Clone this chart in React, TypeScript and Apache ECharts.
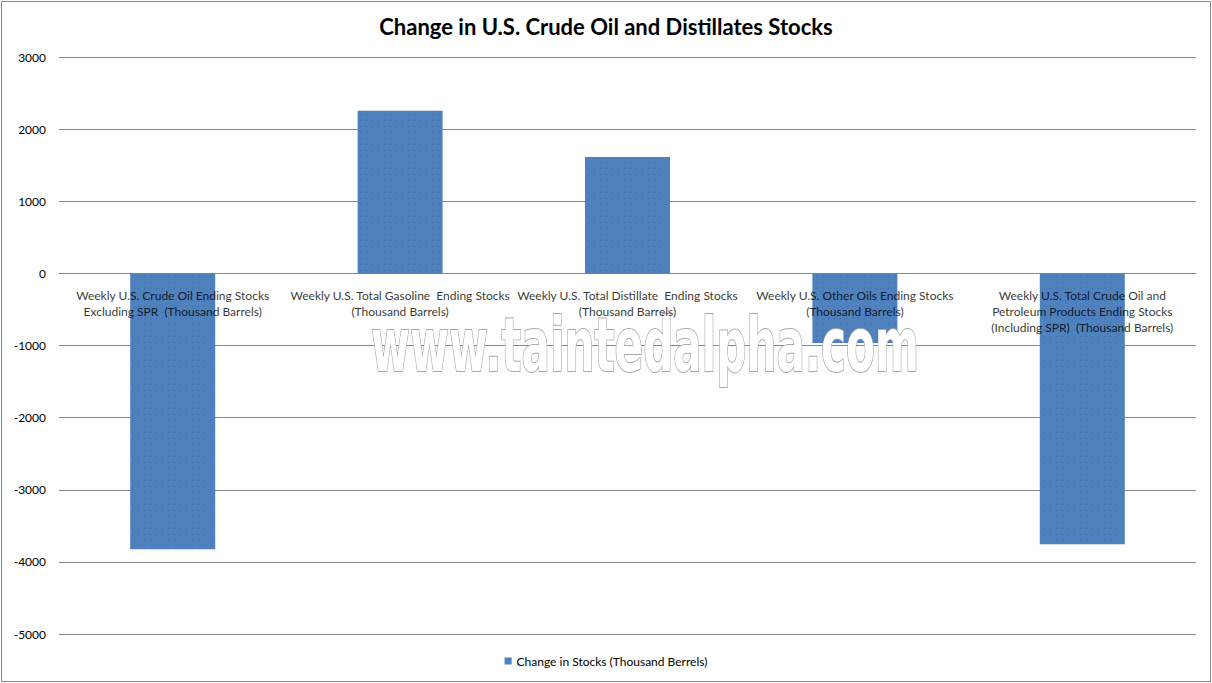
import React, { useEffect, useRef } from "react";
import * as echarts from "echarts";

const title = "Change in U.S. Crude Oil and Distillates Stocks";
const seriesName = "Change in Stocks (Thousand Berrels)";
const categories = [
  "Weekly U.S. Crude Oil Ending Stocks\nExcluding SPR  (Thousand Barrels)",
  "Weekly U.S. Total Gasoline  Ending Stocks\n(Thousand Barrels)",
  "Weekly U.S. Total Distillate  Ending Stocks\n(Thousand Barrels)",
  "Weekly U.S. Other Oils Ending Stocks\n(Thousand Barrels)",
  "Weekly U.S. Total Crude Oil and\nPetroleum Products Ending Stocks\n(Including SPR)  (Thousand Barrels)",
];
const values = [-3825, 2254, 1615, -964, -3755];
const labelAnchors = [0, 0, 0, 0, 0];
const yMin = -5000;
const yMax = 3000;
const yStep = 1000;
const watermark = "www.taintedalpha.com";

export default function App() {
  const ref = useRef<HTMLDivElement>(null);
  useEffect(() => {
    document.body.style.margin = "0";
    const chart = echarts.init(ref.current!, null, { renderer: "svg" });
    const font = "Lato, 'Open Sans', sans-serif";
    chart.setOption({
      animation: false,
      backgroundColor: "#fdfefd",
      title: {
        text: title,
        left: "center",
        top: 10,
        textStyle: { fontFamily: font, fontSize: 22, fontWeight: "bold", color: "#000" },
      },
      grid: { left: 59, right: 16, top: 57, height: 577, outerBoundsMode: "none", containLabel: false },
      legend: {
        top: 650,
        left: "center",
        itemWidth: 7,
        itemHeight: 7,
        icon: "rect",
        textStyle: { fontFamily: font, fontSize: 12, color: "#000" },
        data: [seriesName],
      },
      xAxis: {
        type: "category",
        data: categories,
        axisLine: { onZero: true, lineStyle: { color: "#868686", width: 1 } },
        axisTick: { show: false },
        axisLabel: { show: false },
      },
      yAxis: {
        type: "value",
        min: yMin,
        max: yMax,
        interval: yStep,
        axisLine: { show: false },
        axisTick: { show: false },
        axisLabel: {
          margin: 13,
          fontFamily: font,
          fontSize: 12,
          color: "#000",
          formatter: (v: number) => String(v),
        },
        splitLine: { lineStyle: { color: "#868686", width: 1 } },
      },
      series: [
        {
          name: seriesName,
          type: "bar",
          data: values,
          barWidth: 85,
          itemStyle: {
            color: "#4f81bd",
            decal: {
              symbol: "rect",
              symbolSize: 1,
              dashArrayX: [1, 5],
              dashArrayY: [1, 5],
              rotation: 0,
              color: "rgba(45, 95, 170, 0.6)",
            },
          },
          z: 2,
        },
        {
          name: "labels",
          type: "scatter",
          data: labelAnchors,
          symbolSize: 0,
          silent: true,
          z: 6,
          label: {
            show: true,
            position: "bottom",
            distance: 14,
            formatter: (p: any) => categories[p.dataIndex],
            fontFamily: font,
            fontSize: 12,
            lineHeight: 16,
            color: "#000",
            align: "center",
          },
        },
      ],
      graphic: [
        {
          type: "text",
          z: 4,
          x: 645,
          y: 345,
          scaleX: 0.57,
          style: {
            text: watermark,
            x: 0,
            y: 0,
            fill: "#ffffff",
            stroke: "#a8a8a8",
            lineWidth: 2,
            font: "bold 74px 'DejaVu Sans', sans-serif",
            textAlign: "center",
            textVerticalAlign: "middle",
          },
        },
        {
          type: "rect",
          z: 100,
          shape: { x: 1.5, y: 1.5, width: 1209, height: 680 },
          style: { fill: "none", stroke: "#868686", lineWidth: 1 },
        },
      ],
    });
    return () => chart.dispose();
  }, []);
  return <div ref={ref} style={{ width: 1212, height: 683 }} />;
}
